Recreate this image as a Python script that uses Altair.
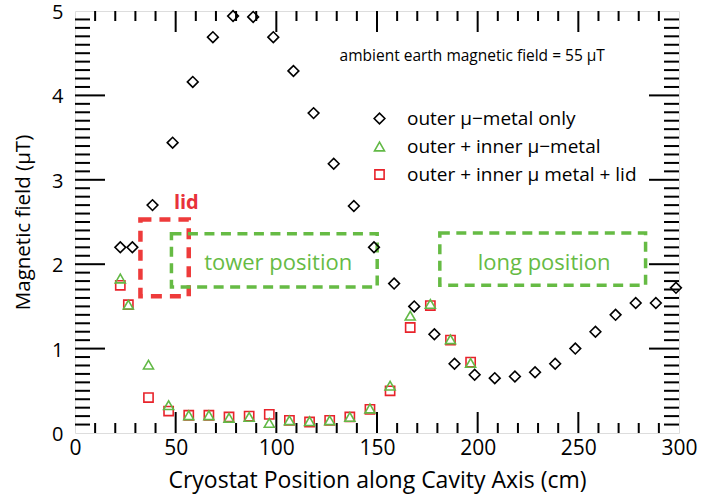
import altair as alt
import pandas as pd

# ---------------- data ----------------
outer_x = [22.5, 28.5, 38.5, 48.5, 58.5, 68.5, 78.5, 88.5, 98.5, 108.5, 118.5, 128.5, 138.5, 148.5,
           158.5, 168.5, 178.5, 188.5, 198.5, 208.5, 218.5, 228.5, 238.5, 248.5, 258.5, 268.5,
           278.5, 288.5, 298.5]
outer_y = [2.20, 2.20, 2.70, 3.44, 4.16, 4.69, 4.94, 4.93, 4.69, 4.29, 3.79, 3.19, 2.69, 2.20,
           1.77, 1.50, 1.17, 0.82, 0.69, 0.65, 0.67, 0.72, 0.82, 1.00, 1.20, 1.40, 1.54, 1.54, 1.72]

inner_x = [22.5, 26.5, 36.5, 46.5, 56.5, 66.5, 76.5, 86.5, 96.5, 106.5, 116.5, 126.5, 136.5,
           146.5, 156.5, 166.5, 176.5, 186.5, 196.5]
inner_y = [1.83, 1.52, 0.81, 0.33, 0.21, 0.21, 0.18, 0.19, 0.12, 0.15, 0.14, 0.15, 0.19,
           0.29, 0.56, 1.39, 1.53, 1.11, 0.83]
lid_y = [1.75, 1.52, 0.42, 0.26, 0.21, 0.21, 0.19, 0.20, 0.22, 0.15, 0.13, 0.15, 0.19,
         0.28, 0.50, 1.25, 1.51, 1.10, 0.84]

series_names = ["outer μ−metal only", "outer + inner μ−metal", "outer + inner μ metal + lid"]
series_colors = ["#000000", "#62b946", "#e8232b"]
series_shapes = ["diamond", "triangle-up", "square"]
series_sizes = [115, 85, 125]

x_tick_labels = [0, 50, 100, 150, 200, 250, 300]
y_tick_labels = [0, 1, 2, 3, 4, 5]
x_major_ticks = [50, 100, 150, 200, 250]
x_minor_ticks = [v for v in range(10, 300, 10) if v % 50 != 0]
y_major_ticks = [1, 2, 3, 4]
y_minor_ticks = [round(v / 10, 1) for v in range(1, 50) if v % 10 != 0]

# annotation boxes (data units)
lid_box = {"x1": [32.5], "x2": [56.5], "y1": [1.62], "y2": [2.53]}
pos_box = {"x1": [47.9, 181.2], "x2": [150.1, 283.4], "y1": [1.73, 1.75], "y2": [2.36, 2.37]}

# annotation texts
green_text = ["tower position", "long position"]
green_text_x = [100.9, 233.0]
green_text_y = [2.02, 2.02]
lid_text = ["lid"]
lid_text_x = [55.3]
lid_text_y = [2.73]
ambient_text = ["ambient earth magnetic field = 55 μT"]
ambient_x = [197.3]
ambient_y = [4.47]

# ---------------- chart ----------------
W, H = 604, 422
FONT = "Open Sans"
X_TITLE = "Cryostat Position along Cavity Axis (cm)"
Y_TITLE = "Magnetic field (μT)"

xscale = alt.Scale(domain=[0, 300], nice=False, zero=False)
yscale = alt.Scale(domain=[0, 5], nice=False, zero=False)

xaxis = alt.Axis(values=x_tick_labels, grid=False, ticks=False, tickSize=0, domain=False,
                 labelFontSize=21, labelFont=FONT, labelColor="black", labelPadding=4,
                 labelFlush=False, titleFontSize=23, titleFont=FONT, titleFontWeight="normal",
                 titleColor="black", titlePadding=11, format="d")
yaxis = alt.Axis(values=y_tick_labels, grid=False, ticks=False, tickSize=0, domain=False,
                 labelFontSize=20, labelFont=FONT, labelColor="black", labelPadding=12,
                 labelOffset=1.5, labelFlush=False, titleFontSize=20.5, titleFont=FONT,
                 titleFontWeight="normal", titleColor="black", titlePadding=18, format="d")


def X(field):
    return alt.X(field, scale=xscale, axis=xaxis, title=X_TITLE)


def Y(field):
    return alt.Y(field, scale=yscale, axis=yaxis, title=Y_TITLE)


df_points = pd.concat([
    pd.DataFrame({"x": outer_x, "y": outer_y, "series": series_names[0], "o": 0}),
    pd.DataFrame({"x": inner_x, "y": lid_y, "series": series_names[2], "o": 1}),
    pd.DataFrame({"x": inner_x, "y": inner_y, "series": series_names[1], "o": 2}),
], ignore_index=True)

legend = alt.Legend(title=None, orient="none", legendX=295, legendY=98, labelFontSize=19,
                    labelFont=FONT, labelColor="black", rowPadding=8, labelOffset=18,
                    labelLimit=0, symbolStrokeWidth=1.6)

points = alt.Chart(df_points).mark_point(filled=False, strokeWidth=1.6, opacity=1).encode(
    x=X("x:Q"),
    y=Y("y:Q"),
    color=alt.Color("series:N", scale=alt.Scale(domain=series_names, range=series_colors),
                    legend=legend, sort=series_names),
    shape=alt.Shape("series:N", scale=alt.Scale(domain=series_names, range=series_shapes),
                    legend=legend, sort=series_names),
    size=alt.Size("series:N", scale=alt.Scale(domain=series_names, range=series_sizes),
                  legend=legend, sort=series_names),
    order=alt.Order("o:Q"),
)


def tick_layer(values, orient, length):
    df = pd.DataFrame({"v": values})
    base = alt.Chart(df).mark_rule(color="black", strokeWidth=2)
    if orient == "bottom":
        return base.encode(x=X("v:Q"), y=alt.value(H), y2=alt.value(H - length))
    if orient == "top":
        return base.encode(x=X("v:Q"), y=alt.value(0), y2=alt.value(length))
    if orient == "left":
        return base.encode(y=Y("v:Q"), x=alt.value(0), x2=alt.value(length))
    return base.encode(y=Y("v:Q"), x=alt.value(W), x2=alt.value(W - length))


ticks = [
    tick_layer(x_major_ticks, "bottom", 21), tick_layer(x_minor_ticks, "bottom", 10),
    tick_layer(x_major_ticks, "top", 21), tick_layer(x_minor_ticks, "top", 10),
    tick_layer(y_major_ticks, "left", 30), tick_layer(y_minor_ticks, "left", 15),
    tick_layer(y_major_ticks, "right", 30), tick_layer(y_minor_ticks, "right", 15),
]

red_box = alt.Chart(pd.DataFrame(lid_box)).mark_rect(
    fillOpacity=0, stroke="#ee3b3b", strokeWidth=4.5, strokeDash=[11, 8]
).encode(x=X("x1:Q"), x2="x2:Q", y=Y("y1:Q"), y2="y2:Q")

green_box = alt.Chart(pd.DataFrame(pos_box)).mark_rect(
    fillOpacity=0, stroke="#66bb44", strokeWidth=3.5, strokeDash=[10, 6.5]
).encode(x=X("x1:Q"), x2="x2:Q", y=Y("y1:Q"), y2="y2:Q")

green_labels = alt.Chart(pd.DataFrame({"t": green_text, "x": green_text_x, "y": green_text_y})).mark_text(
    font=FONT, fontSize=22, color="#66bb44", align="center", baseline="middle"
).encode(x=X("x:Q"), y=Y("y:Q"), text="t:N")

lid_label = alt.Chart(pd.DataFrame({"t": lid_text, "x": lid_text_x, "y": lid_text_y})).mark_text(
    font=FONT, fontSize=20, fontWeight="bold", color="#e8323a", align="center", baseline="middle"
).encode(x=X("x:Q"), y=Y("y:Q"), text="t:N")

ambient_label = alt.Chart(pd.DataFrame({"t": ambient_text, "x": ambient_x, "y": ambient_y})).mark_text(
    font=FONT, fontSize=15.5, color="black", align="center", baseline="middle"
).encode(x=X("x:Q"), y=Y("y:Q"), text="t:N")

chart = alt.layer(
    red_box, green_box, green_labels, lid_label, ambient_label, *ticks, points
).properties(
    width=W, height=H,
    autosize=alt.AutoSizeParams(type="none"),
    padding={"left": 75, "top": 11, "right": 23, "bottom": 65},
).configure_view(stroke="black", strokeWidth=2).configure(background="white")

chart.save("out.html", embed_options={"renderer": "svg", "actions": False})
